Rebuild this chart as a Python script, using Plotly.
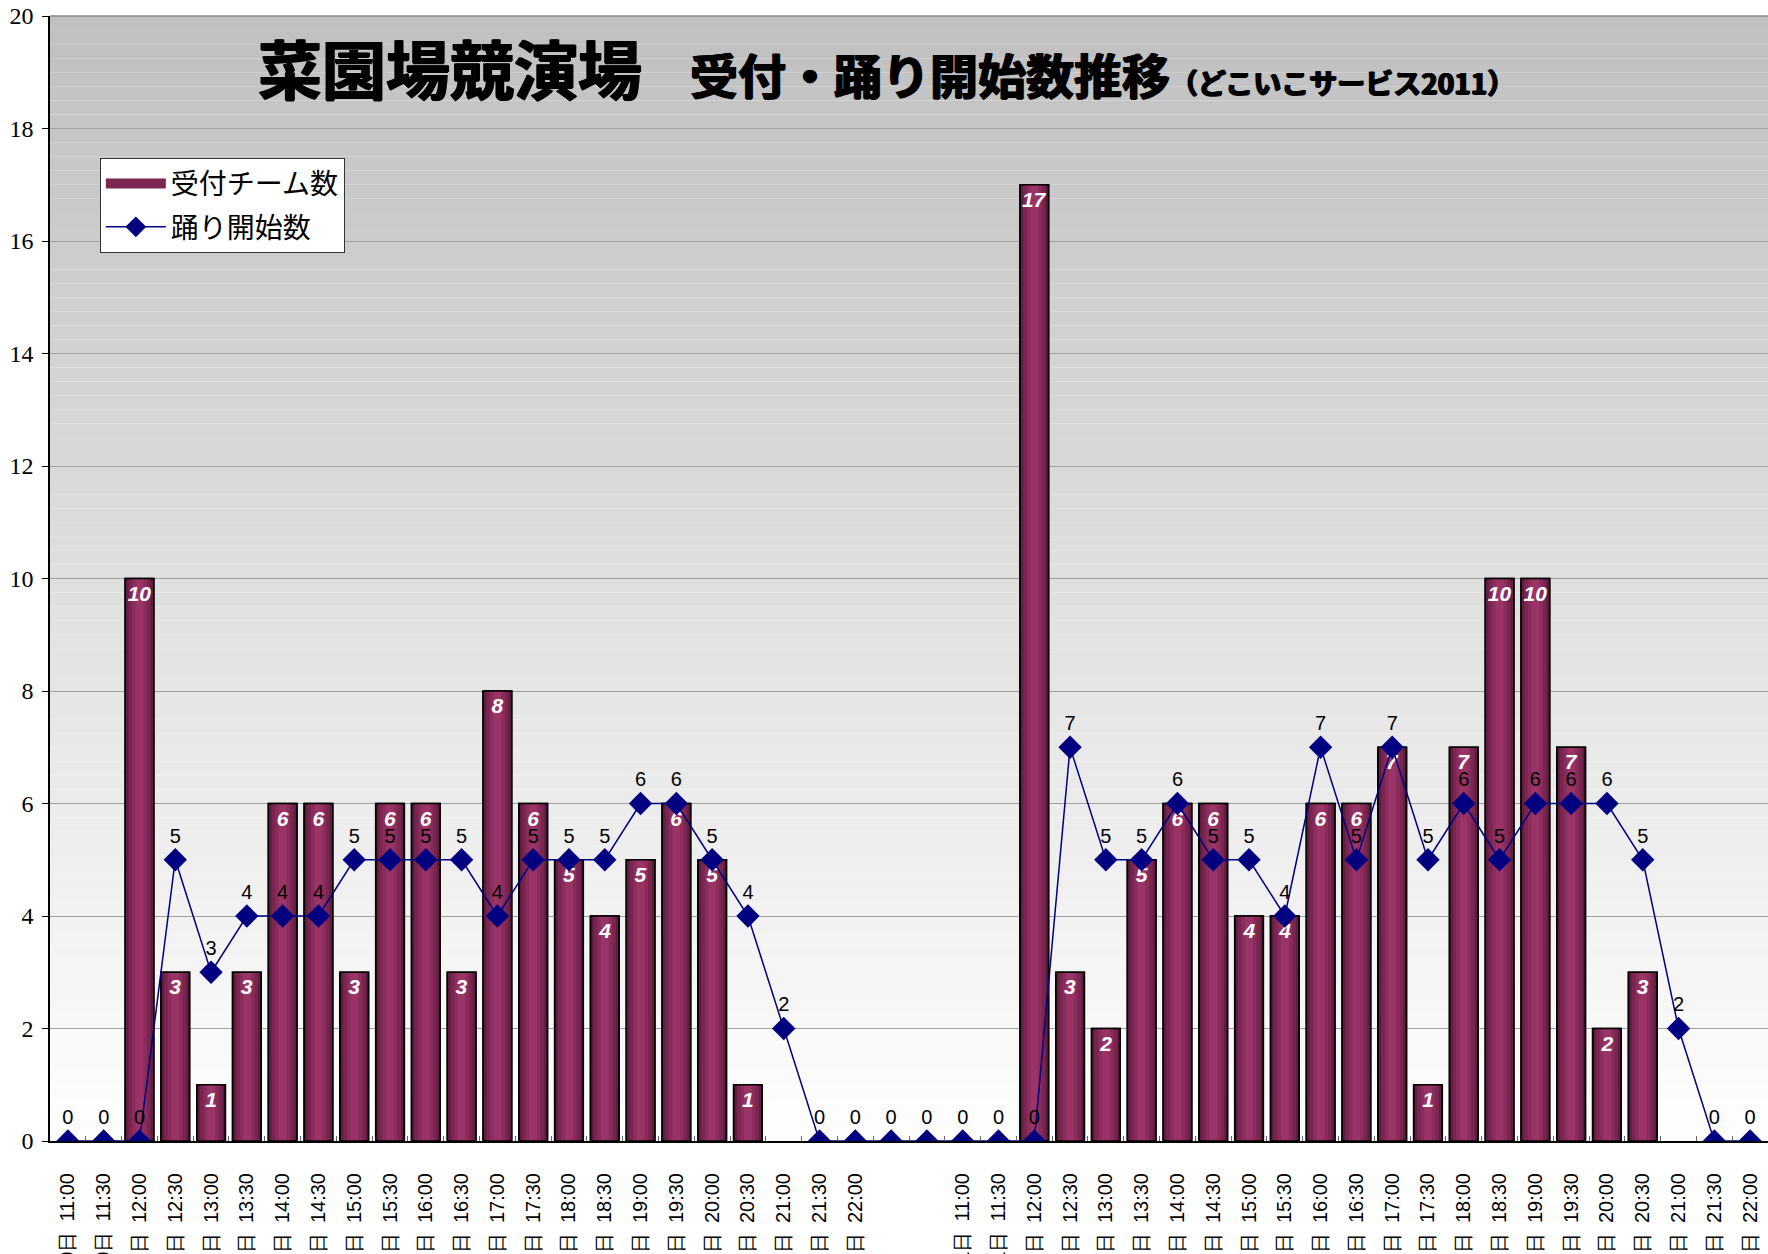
import plotly.graph_objects as go

# time slots for each day
times = ["11:00", "11:30", "12:00", "12:30", "13:00", "13:30", "14:00", "14:30",
         "15:00", "15:30", "16:00", "16:30", "17:00", "17:30", "18:00", "18:30",
         "19:00", "19:30", "20:00", "20:30", "21:00", "21:30", "22:00"]
day10 = [f"10日\u2002{t}" for t in times]
day11 = [f"11日\u2002{t}" for t in times]
spacer = [" ", "  "]
categories = day10 + spacer + day11

# 受付チーム数 (bars)
uketsuke_10 = [None, None, 10, 3, 1, 3, 6, 6, 3, 6, 6, 3, 8, 6, 5, 4, 5, 6, 5, 1, None, None, None]
uketsuke_gap = [None, None]
uketsuke_11 = [None, None, 17, 3, 2, 5, 6, 6, 4, 4, 6, 6, 7, 1, 7, 10, 10, 7, 2, 3, None, None, None]
uketsuke = uketsuke_10 + uketsuke_gap + uketsuke_11

# 踊り開始数 (line)
odori_10 = [0, 0, 0, 5, 3, 4, 4, 4, 5, 5, 5, 5, 4, 5, 5, 5, 6, 6, 5, 4, 2, 0, 0]
odori_gap = [0, 0]
odori_11 = [0, 0, 0, 7, 5, 5, 6, 5, 5, 4, 7, 5, 7, 5, 6, 5, 6, 6, 6, 5, 2, 0, 0]
odori = odori_10 + odori_gap + odori_11

bar_text = [str(v) if v else "" for v in uketsuke]

fig = go.Figure()

# bars drawn in layers to imitate the shaded cylinder look
fig.add_trace(go.Bar(x=categories, y=uketsuke, width=0.8, showlegend=False,
                     marker=dict(color="#621c40", line=dict(color="black", width=1.5)),
                     hoverinfo="skip"))
fig.add_trace(go.Bar(x=categories, y=uketsuke, width=0.62, showlegend=False,
                     marker=dict(color="#782550", line=dict(width=0)), hoverinfo="skip"))
fig.add_trace(go.Bar(x=categories, y=uketsuke, width=0.42, showlegend=False,
                     marker=dict(color="#8a2c5c", line=dict(width=0)), hoverinfo="skip"))
fig.add_trace(go.Bar(x=categories, y=uketsuke, width=0.22, showlegend=False,
                     marker=dict(color="#9a3467", line=dict(width=0)), hoverinfo="skip"))
fig.add_trace(go.Bar(x=categories, y=uketsuke, width=0.8, showlegend=False,
                     marker=dict(color="rgba(0,0,0,0)", line=dict(color="black", width=1.5)),
                     text=bar_text, textposition="inside", insidetextanchor="end",
                     textangle=0, constraintext="none",
                     textfont=dict(family="Liberation Sans", size=21, color="white",
                                   weight="bold", style="italic")))

# legend entry for the bars: a wide swatch like the original
fig.add_trace(go.Scatter(x=[None], y=[None], mode="lines", name="受付チーム数",
                         legendgroup="a", line=dict(color="#7a2650", width=15)))

fig.add_trace(go.Scatter(x=categories, y=odori, name="踊り開始数", legendgroup="b",
                         mode="lines+markers+text", text=[str(v) for v in odori],
                         textposition="top center",
                         textfont=dict(family="Liberation Sans", size=20, color="black"),
                         line=dict(color="#000080", width=1.5),
                         marker=dict(symbol="diamond", size=18, color="#000080")))

# vertical grey-to-white background
shapes = []
n_bands = 80
for i in range(n_bands):
    frac = i / n_bands
    c = int(255 - (255 - 192) * (frac + 0.5 / n_bands))
    shapes.append(dict(type="rect", xref="paper", yref="paper",
                       x0=0, x1=1, y0=frac, y1=frac + 1 / n_bands,
                       fillcolor=f"rgb({c},{c},{c})", line=dict(width=0), layer="below"))
shapes.append(dict(type="line", xref="paper", yref="paper", x0=0, x1=1, y0=1, y1=1,
                   line=dict(color="#888888", width=1.5)))
fig.update_layout(shapes=shapes)

title = ("<b><span style='font-size:64px'>菜園場競演場</span>"
         "<span style='font-size:48px'>　受付・踊り開始数推移</span>"
         "<span style='font-size:28px'>（どこいこサービス2011）</span></b>")
fig.add_annotation(text=title, xref="paper", yref="paper", x=0.12, y=0.956,
                   xanchor="left", yanchor="middle", showarrow=False,
                   font=dict(family="Noto Sans CJK JP", color="black", size=48,
                             shadow="1px 0px 0px black, -1px 0px 0px black, 0px 1px 0px black"))

fig.update_layout(
    width=1768, height=1254,
    margin=dict(l=50, r=0, t=16, b=113),
    barmode="overlay",
    paper_bgcolor="white",
    plot_bgcolor="white",
    showlegend=True,
    legend=dict(x=0.029, y=0.874, xanchor="left", yanchor="top",
                bgcolor="white", bordercolor="#333333", borderwidth=1,
                font=dict(family="Noto Sans CJK JP", size=28, color="black"),
                traceorder="grouped", tracegroupgap=4, itemwidth=60),
    xaxis=dict(type="category", tickangle=-90, ticks="inside", tickson="boundaries",
               ticklen=5, tickcolor="#666666", showgrid=False,
               showline=True, linecolor="black", linewidth=2,
               tickfont=dict(family="Liberation Sans", size=20, color="black"),
               ticklabelstandoff=22, automargin=False, range=[-0.5, 47.5]),
    yaxis=dict(range=[0, 20], dtick=2, showgrid=True, gridcolor="#a0a0a0", gridwidth=1,
               showline=True, linecolor="black", linewidth=1.5,
               ticks="outside", ticklen=6, tickcolor="black",
               tickfont=dict(family="Liberation Serif", size=24, color="black"),
               ticklabelstandoff=4, zeroline=False, automargin=False),
)

fig.write_html("out.html", config={"displayModeBar": False},
               post_script="document.body.style.margin='0';")
